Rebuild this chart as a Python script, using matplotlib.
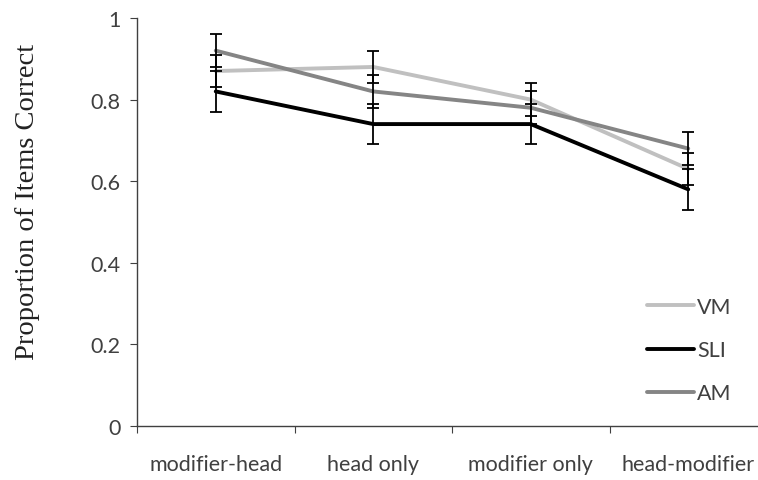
import matplotlib.pyplot as plt

conditions = ['modifier-head', 'head only', 'modifier only', 'head-modifier']
groups = ['VM', 'SLI', 'AM']
vm = [0.87, 0.88, 0.80, 0.63]
sli = [0.82, 0.74, 0.74, 0.58]
am = [0.92, 0.82, 0.78, 0.68]
vm_err = [0.04, 0.04, 0.04, 0.04]
sli_err = [0.05, 0.05, 0.05, 0.05]
am_err = [0.04, 0.04, 0.04, 0.04]

colors = ['#c0c0c0', '#000000', '#858585']
text_col = '#404040'

fig = plt.figure(figsize=(7.58, 4.81), dpi=100)
W, H = 758, 481
ax = fig.add_axes([137 / W, (H - 427) / H, 630 / W, (427 - 19) / H])

x = list(range(len(conditions)))
for vals, errs, name, c in zip([vm, sli, am], [vm_err, sli_err, am_err], groups, colors):
    ax.plot(x, vals, color=c, lw=2.8, label=name, zorder=2, solid_capstyle='round')
    ax.errorbar(x, vals, yerr=errs, fmt='none', ecolor='black', elinewidth=1.3,
                capsize=4.5, capthick=1.3, zorder=3)

ax.set_xlim(-0.5, 3.5)
ax.set_ylim(0, 1)
ax.set_yticks([0, 0.2, 0.4, 0.6, 0.8, 1.0])
ax.set_yticklabels(['0', '0.2', '0.4', '0.6', '0.8', '1'])
ax.set_xticks([-0.5, 0.5, 1.5, 2.5])
ax.set_xticklabels([])
ax.set_xticks(x, minor=True)
ax.set_xticklabels(conditions, minor=True)
ax.tick_params(axis='x', which='minor', length=0, pad=20)
ax.tick_params(axis='x', which='major', length=5, direction='out', color=text_col)
ax.tick_params(axis='y', length=5, direction='out', color=text_col, pad=7)
for lab in ax.get_xticklabels(minor=True) + ax.get_yticklabels():
    lab.set_fontfamily('Lato')
    lab.set_fontsize(15.5)
    lab.set_color(text_col)

for s in ['top', 'right']:
    ax.spines[s].set_visible(False)
for s in ['left', 'bottom']:
    ax.spines[s].set_color(text_col)
    ax.spines[s].set_linewidth(1.0)

fig.text(28 / W, 1 - 202 / H, 'Proportion of Items Correct', rotation=90,
         ha='center', va='center', family='Liberation Serif', fontsize=20.5, color='#222222')

leg = ax.legend(loc='upper left', bbox_to_anchor=(647 / W, 1 - 298 / H),
                bbox_transform=fig.transFigure, frameon=False, borderpad=0,
                borderaxespad=0, handlelength=2.2, handletextpad=0.12,
                labelspacing=1.08, prop={'family': 'Lato', 'size': 15.5})
for t in leg.get_texts():
    t.set_color(text_col)

fig.savefig('out.png', dpi=100)
